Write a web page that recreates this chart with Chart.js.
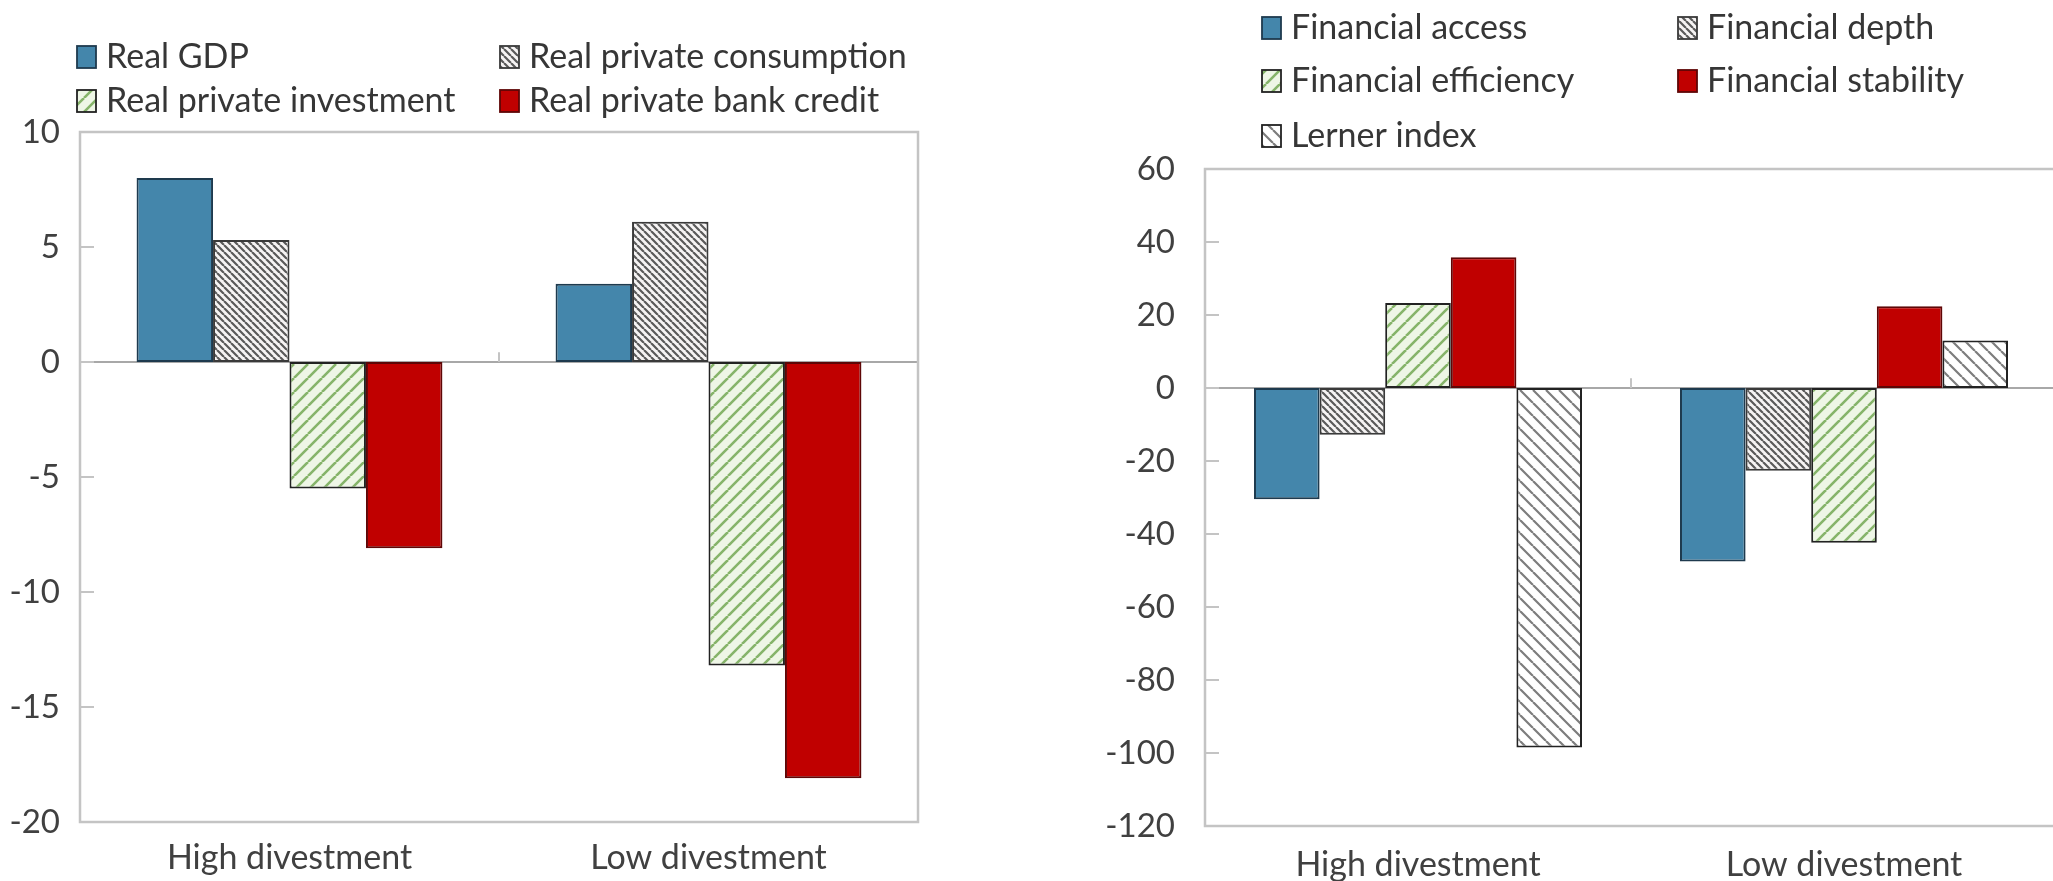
<!DOCTYPE html>
<html>
<head>
<meta charset="utf-8">
<title>Divestment panels</title>
<script src="https://cdn.jsdelivr.net/npm/chart.js@4.4.1/dist/chart.umd.min.js"></script>
<style>
  html, body { margin: 0; padding: 0; background: #fff; overflow: hidden; }
  body { width: 2053px; height: 881px; position: relative; }
  .panel { position: absolute; top: 0; height: 881px; }
  #growthPanel { left: 0; width: 1000px; }
  #financePanel { left: 1000px; width: 1100px; }
</style>
</head>
<body>
<div class="panel" id="growthPanel"><canvas id="growthChart" width="1000" height="881"></canvas></div>
<div class="panel" id="financePanel"><canvas id="financeChart" width="1100" height="881"></canvas></div>
<script>
const categories = ['High divestment', 'Low divestment'];

// left panel: macro outcomes
const realGdp = [8.0, 3.4];
const realConsumption = [5.3, 6.1];
const realInvestment = [-5.5, -13.2];
const realBankCredit = [-8.1, -18.1];
const growthTicks = [10, 5, 0, -5, -10, -15, -20];

// right panel: financial development indicators
const finAccess = [-30.5, -47.5];
const finDepth = [-12.8, -22.7];
const finEfficiency = [23.3, -42.4];
const finStability = [35.8, 22.4];
const lernerIndex = [-98.5, 13.0];
const financeTicks = [60, 40, 20, 0, -20, -40, -60, -80, -100, -120];

const FONT = 'Lato, "Open Sans", sans-serif';
const TEXT = '#404040';

// diagonal hatch fill; 'down' runs top-left to bottom-right
function hatch(size, bg, stroke, width, dir) {
  const c = document.createElement('canvas');
  c.width = c.height = size;
  const g = c.getContext('2d');
  g.fillStyle = bg;
  g.fillRect(0, 0, size, size);
  g.strokeStyle = stroke;
  g.lineWidth = width;
  g.beginPath();
  for (const k of [-size, 0, size]) {
    if (dir === 'down') { g.moveTo(k, 0); g.lineTo(k + size, size); }
    else { g.moveTo(k, size); g.lineTo(k + size, 0); }
  }
  g.stroke();
  return g.createPattern(c, 'repeat');
}

const blueFill = '#4486ab';
const blueEdge = '#1e3a4e';
const redFill = '#c00000';
const redEdge = '#5e0606';
const denseGrey = hatch(7, '#f6f4f4', '#5a5a5a', 2.2, 'down');
const greenStripe = hatch(14, '#eef6e6', '#86b46a', 2.6, 'up');
const wideGrey = hatch(13, '#ffffff', '#7d7d7d', 2.2, 'down');

// plot frame, inward value ticks, zero line and category ticks
const excelFrame = {
  id: 'excelFrame',
  beforeDatasetsDraw(chart, args, opts) {
    const { ctx, chartArea: a, scales: { y } } = chart;
    const zy = y.getPixelForValue(0);
    ctx.save();
    ctx.strokeStyle = opts.axisColor;
    ctx.lineWidth = 2;
    ctx.beginPath();
    ctx.moveTo(a.left, zy);
    ctx.lineTo(a.right, zy);
    ctx.stroke();
    ctx.restore();
  },
  afterDatasetsDraw(chart, args, opts) {
    const { ctx, chartArea: a, scales: { x, y } } = chart;
    ctx.save();
    ctx.strokeStyle = opts.color;
    ctx.lineWidth = 2.5;
    ctx.strokeRect(a.left, a.top, a.right - a.left, a.bottom - a.top);
    ctx.lineWidth = 2;
    ctx.beginPath();
    y.ticks.forEach(t => {
      const py = y.getPixelForValue(t.value);
      ctx.moveTo(a.left, py);
      ctx.lineTo(a.left + opts.tickLen, py);
    });
    const zy = y.getPixelForValue(0);
    for (let i = 1; i < x.ticks.length; i++) {
      const px = (x.getPixelForTick(i - 1) + x.getPixelForTick(i)) / 2;
      ctx.moveTo(px, zy);
      ctx.lineTo(px, zy - opts.tickLen * 0.7);
    }
    ctx.stroke();
    ctx.restore();
  }
};

// legend laid out in fixed columns
const gridLegend = {
  id: 'gridLegend',
  afterDraw(chart, args, opts) {
    const ctx = chart.ctx;
    const n = opts.columns.length;
    ctx.save();
    ctx.font = opts.font;
    ctx.textBaseline = 'middle';
    chart.data.datasets.forEach((ds, i) => {
      const x = opts.columns[i % n];
      const y = opts.rows[Math.floor(i / n)];
      const w = opts.boxWidth, h = opts.boxHeight;
      ctx.fillStyle = ds.backgroundColor;
      ctx.fillRect(x, y - h / 2, w, h);
      ctx.strokeStyle = ds.borderColor;
      ctx.lineWidth = 1.8;
      ctx.strokeRect(x, y - h / 2, w, h);
      ctx.fillStyle = opts.color;
      ctx.fillText(ds.label, x + w + opts.gap, y);
    });
    ctx.restore();
  }
};

function barOptions(ticks, cfg) {
  return {
    responsive: false,
    animation: false,
    layout: { padding: { top: cfg.top, right: cfg.right, left: 0, bottom: 0 } },
    datasets: {
      bar: { categoryPercentage: cfg.group, barPercentage: 1, borderWidth: 2, borderSkipped: false }
    },
    plugins: {
      legend: { display: false },
      tooltip: { enabled: false },
      gridLegend: {
        columns: cfg.legendColumns, rows: cfg.legendRows,
        boxWidth: 19, boxHeight: 22, gap: 10,
        font: '34px ' + FONT, color: '#363636'
      },
      excelFrame: { color: '#c4c4c4', axisColor: '#a8a8a8', tickLen: 14 }
    },
    scales: {
      x: {
        grid: { display: false, drawTicks: false },
        border: { display: false },
        ticks: { font: { family: FONT, size: 34 }, color: TEXT, padding: cfg.xPad },
        afterFit: s => { s.height = cfg.xHeight; }
      },
      y: {
        min: Math.min(...ticks),
        max: Math.max(...ticks),
        grid: { display: false, drawTicks: false },
        border: { display: false },
        ticks: { stepSize: ticks[0] - ticks[1], font: { family: FONT, size: 33 }, color: TEXT, padding: cfg.yPad },
        afterFit: s => { s.width = cfg.yWidth; }
      }
    }
  };
}

new Chart(document.getElementById('growthChart'), {
  type: 'bar',
  data: {
    labels: categories,
    datasets: [
      { label: 'Real GDP', data: realGdp, backgroundColor: blueFill, borderColor: blueEdge },
      { label: 'Real private consumption', data: realConsumption, backgroundColor: denseGrey, borderColor: '#3a3a3a' },
      { label: 'Real private investment', data: realInvestment, backgroundColor: greenStripe, borderColor: '#222222' },
      { label: 'Real private bank credit', data: realBankCredit, backgroundColor: redFill, borderColor: redEdge }
    ]
  },
  options: barOptions(growthTicks, {
    top: 132, right: 82, group: 0.73, xHeight: 59, xPad: 16, yWidth: 80, yPad: 20,
    legendColumns: [77, 500], legendRows: [57, 101]
  }),
  plugins: [excelFrame, gridLegend]
});

new Chart(document.getElementById('financeChart'), {
  type: 'bar',
  data: {
    labels: categories,
    datasets: [
      { label: 'Financial access', data: finAccess, backgroundColor: blueFill, borderColor: blueEdge },
      { label: 'Financial depth', data: finDepth, backgroundColor: denseGrey, borderColor: '#3a3a3a' },
      { label: 'Financial efficiency', data: finEfficiency, backgroundColor: greenStripe, borderColor: '#222222' },
      { label: 'Financial stability', data: finStability, backgroundColor: redFill, borderColor: redEdge },
      { label: 'Lerner index', data: lernerIndex, backgroundColor: wideGrey, borderColor: '#222222' }
    ]
  },
  options: barOptions(financeTicks, {
    top: 169, right: 43, group: 0.77, xHeight: 55, xPad: 19, yWidth: 205, yPad: 30,
    legendColumns: [262, 678], legendRows: [28, 81, 136]
  }),
  plugins: [excelFrame, gridLegend]
});
</script>
</body>
</html>
